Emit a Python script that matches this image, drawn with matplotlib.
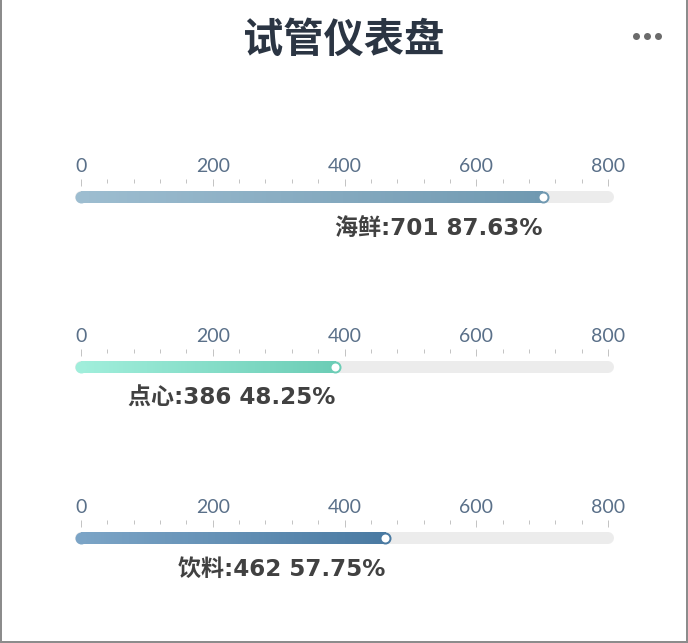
import numpy as np
import matplotlib.pyplot as plt
from matplotlib.collections import LineCollection
from matplotlib.colors import to_rgb
from matplotlib.lines import Line2D

plt.rcParams['font.family'] = ['Noto Sans CJK SC', 'DejaVu Sans']

title = "试管仪表盘"
names = ["海鲜", "点心", "饮料"]
values = [701, 386, 462]
percents = ["87.63%", "48.25%", "57.75%"]
axis_max = 800
major_ticks = [0, 200, 400, 600, 800]

# gradient start / end colours of each bar
grad = [("#9dbdd0", "#7099b1"), ("#a0eedb", "#6ccdb6"), ("#7ba4c6", "#4a7aa2")]

W, H = 688, 643
fig = plt.figure(figsize=(W / 100, H / 100), dpi=100)
fig.patch.set_facecolor("white")
PT = 0.72  # px -> pt at 100 dpi

# frame lines (left, right, bottom)
frame = fig.add_axes([0, 0, 1, 1])
frame.set_xlim(0, W); frame.set_ylim(H, 0); frame.axis("off")
frame.add_line(Line2D([1, 1], [0, H - 1], color="#8c8c8c", lw=2 * PT))
frame.add_line(Line2D([W - 1.5, W - 1.5], [0, H - 1], color="#8c8c8c", lw=2 * PT))
frame.add_line(Line2D([0, W], [H - 1.5, H - 1.5], color="#8c8c8c", lw=2 * PT))

fig.text(344 / W, 1 - 40 / H, title, ha="center", va="center",
         fontsize=29, fontweight="bold", color="#2b3543")
for dx in (636, 647, 658):
    frame.plot(dx, 36, "o", ms=7 * PT, color="#6b6b6b", mec="none")

x0, x1 = 81, 608          # pixel positions of 0 and axis_max
tick_tops = [179, 349, 520]
bar_h = 12

for i, (name, v, pct) in enumerate(zip(names, values, percents)):
    top = tick_tops[i]
    # axes: y in px units, bar center at 0, top of axes 18 px above
    ax = fig.add_axes([x0 / W, 1 - (top + 24) / H, (x1 - x0) / W, 24 / H])
    ax.set_xlim(0, axis_max)
    ax.set_ylim(-6, 18)
    for s in ax.spines.values():
        s.set_visible(False)
    ax.patch.set_alpha(0)
    ax.set_yticks([])
    ax.xaxis.tick_top()
    ax.set_xticks(major_ticks)
    ax.set_xticks(np.arange(0, axis_max + 1, 40), minor=True)
    ax.tick_params(axis="x", which="major", direction="in", length=7 * PT,
                   width=1 * PT, color="#c4c4c4", pad=4 * PT,
                   labelsize=14, labelcolor="#5a7089")
    ax.tick_params(axis="x", which="minor", direction="in", length=4 * PT,
                   width=1 * PT, color="#c4c4c4")
    for lab in ax.get_xticklabels():
        lab.set_family(["Lato", "DejaVu Sans"])

    # track
    ax.plot([0, axis_max], [0, 0], color="#ececec", lw=bar_h * PT,
            solid_capstyle="round", clip_on=False, zorder=1)
    # gradient fill
    c0, c1 = np.array(to_rgb(grad[i][0])), np.array(to_rgb(grad[i][1]))
    n = 120
    xs = np.linspace(0, v, n + 1)
    segs = [[(xs[k], 0), (xs[k + 1] + 0.5, 0)] for k in range(n)]
    cols = [c0 + (c1 - c0) * (k / (n - 1)) for k in range(n)]
    ax.add_collection(LineCollection(segs, colors=cols, linewidths=bar_h * PT,
                                     capstyle="butt", clip_on=False, zorder=2))
    ax.plot(0, 0, "o", ms=bar_h * PT, color=c0, mec="none", clip_on=False, zorder=2)
    ax.plot(v, 0, "o", ms=(bar_h - 2) * PT, mfc="white", mec=c1,
            mew=2 * PT, clip_on=False, zorder=3)

    ax.text(v, -31, f"{name}:{v} {pct}", ha="right", va="center",
            fontsize=16.6, fontweight="bold", color="#414141", clip_on=False,
            family=["DejaVu Sans", "Noto Sans CJK SC"])

fig.savefig("out.png", dpi=100, facecolor="white")
